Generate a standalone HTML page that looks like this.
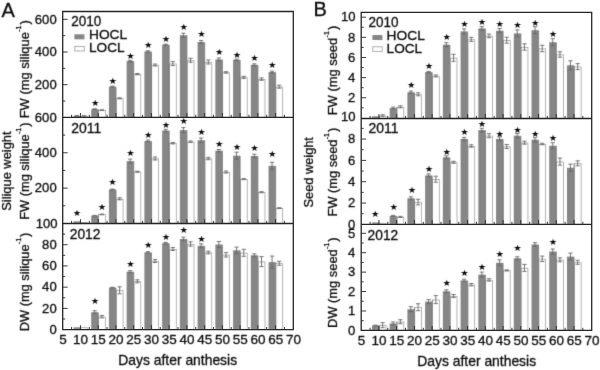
<!DOCTYPE html>
<html lang="en"><head><meta charset="utf-8"><title>Silique and seed weight</title>
<style>
html,body{margin:0;padding:0;background:#fff;}
body{width:600px;height:370px;overflow:hidden;}
svg{display:block;font-family:'Liberation Sans', Arial, sans-serif;fill:#0c0c0c;}
text{stroke:#0c0c0c;stroke-width:0.3px;}
.tk text{font-size:13.5px;}
.tk.y text{font-size:13.1px;}
.ti text{font-size:14.2px;}
.yl{font-size:13px;}
.yr text{font-size:13.8px;}
.lg text{font-size:13px;}
.pl{font-size:20px;}
.st text{font-family:'DejaVu Sans',sans-serif;font-size:8.8px;text-anchor:middle;stroke:none;}
</style></head>
<body>
<svg width="600" height="370" viewBox="0 0 600 370">
<defs><filter id="soft" filterUnits="userSpaceOnUse" x="-10" y="-10" width="620" height="390" color-interpolation-filters="sRGB"><feConvolveMatrix order="3" kernelMatrix="0 1 0 1 5 1 0 1 0" divisor="9" edgeMode="duplicate" preserveAlpha="true"/></filter></defs>
<rect width="600" height="370" fill="#fff"/>
<g filter="url(#soft)">
<rect x="-10" y="-10" width="620" height="390" fill="#fff"/>
<g fill="#868686"><rect x="73.44" y="115.9" width="7" height="1.5"/><rect x="91.18" y="109.2" width="7" height="8.2"/><rect x="108.92" y="86.7" width="7" height="30.7"/><rect x="126.65" y="61" width="7" height="56.4"/><rect x="144.39" y="51.5" width="7" height="65.9"/><rect x="162.13" y="44.7" width="7" height="72.7"/><rect x="179.87" y="35.2" width="7" height="82.2"/><rect x="197.61" y="42" width="7" height="75.4"/><rect x="215.35" y="59.5" width="7" height="57.9"/><rect x="233.08" y="59.8" width="7" height="57.6"/><rect x="250.82" y="64.8" width="7" height="52.6"/><rect x="268.56" y="72.1" width="7" height="45.3"/></g>
<g fill="#fff" stroke="#9a9a9a" stroke-width="0.75"><rect x="80.79" y="116.25" width="6.8" height="1.15"/><rect x="98.53" y="110.45" width="6.8" height="6.95"/><rect x="116.27" y="98.65" width="6.8" height="18.75"/><rect x="134" y="74.45" width="6.8" height="42.95"/><rect x="151.74" y="65.35" width="6.8" height="52.05"/><rect x="169.48" y="63.95" width="6.8" height="53.45"/><rect x="187.22" y="60.65" width="6.8" height="56.75"/><rect x="204.96" y="62.35" width="6.8" height="55.05"/><rect x="222.7" y="72.75" width="6.8" height="44.65"/><rect x="240.43" y="77.75" width="6.8" height="39.65"/><rect x="258.17" y="79.45" width="6.8" height="37.95"/><rect x="275.91" y="87.05" width="6.8" height="30.35"/></g>
<path d="M80.54 116.2V117.4M98.28 109.5V117.4M116.02 87V117.4M133.75 61.3V117.4M151.49 51.8V117.4M169.23 45V117.4M186.97 35.5V117.4M204.71 42.3V117.4M222.45 59.8V117.4M240.18 60.1V117.4M257.92 65.1V117.4M275.66 72.4V117.4" stroke="#6c6c6c" stroke-width="0.7" fill="none"/>
<path d="M76.94 115.6V116.2M74.84 115.6h4.2M74.84 116.2h4.2M84.14 115.6V116.2M82.04 115.6h4.2M82.04 116.2h4.2M94.68 108.8V109.6M92.58 108.8h4.2M92.58 109.6h4.2M101.88 109.8V110.4M99.78 109.8h4.2M99.78 110.4h4.2M112.42 86.2V87.2M110.32 86.2h4.2M110.32 87.2h4.2M119.62 97.8V98.8M117.52 97.8h4.2M117.52 98.8h4.2M130.15 60.3V61.7M128.05 60.3h4.2M128.05 61.7h4.2M137.35 73.5V74.7M135.25 73.5h4.2M135.25 74.7h4.2M147.89 50.8V52.2M145.79 50.8h4.2M145.79 52.2h4.2M155.09 64V66M152.99 64h4.2M152.99 66h4.2M165.63 44.2V45.2M163.53 44.2h4.2M163.53 45.2h4.2M172.83 61.6V65.6M170.73 61.6h4.2M170.73 65.6h4.2M183.37 33.2V37.2M181.27 33.2h4.2M181.27 37.2h4.2M190.57 58.3V62.3M188.47 58.3h4.2M188.47 62.3h4.2M201.11 40.5V43.5M199.01 40.5h4.2M199.01 43.5h4.2M208.31 60V64M206.21 60h4.2M206.21 64h4.2M218.85 58V61M216.75 58h4.2M216.75 61h4.2M226.05 71.7V73.1M223.95 71.7h4.2M223.95 73.1h4.2M236.58 59.1V60.5M234.48 59.1h4.2M234.48 60.5h4.2M243.78 76.4V78.4M241.68 76.4h4.2M241.68 78.4h4.2M254.32 63.8V65.8M252.22 63.8h4.2M252.22 65.8h4.2M261.52 77.9V80.3M259.42 77.9h4.2M259.42 80.3h4.2M272.06 71.1V73.1M269.96 71.1h4.2M269.96 73.1h4.2M279.26 85.2V88.2M277.16 85.2h4.2M277.16 88.2h4.2" stroke="#686868" stroke-width="0.9" fill="none"/>
<g class="st"><text transform="translate(95.3 105.7) scale(1.08 1)">★</text><text transform="translate(112.72 83.7) scale(1.08 1)">★</text><text transform="translate(130.45 58.5) scale(1.08 1)">★</text><text transform="translate(148.19 47.7) scale(1.08 1)">★</text><text transform="translate(165.93 42.1) scale(1.08 1)">★</text><text transform="translate(183.67 29.6) scale(1.08 1)">★</text><text transform="translate(201.41 37.1) scale(1.08 1)">★</text><text transform="translate(219.15 55) scale(1.08 1)">★</text><text transform="translate(236.88 57.5) scale(1.08 1)">★</text><text transform="translate(254.62 61) scale(1.08 1)">★</text><text transform="translate(272.36 68) scale(1.08 1)">★</text></g>
<g fill="#868686"><rect x="73.44" y="221.3" width="7" height="2.2"/><rect x="91.18" y="215.7" width="7" height="7.8"/><rect x="108.92" y="189.5" width="7" height="34"/><rect x="126.65" y="161.1" width="7" height="62.4"/><rect x="144.39" y="141" width="7" height="82.5"/><rect x="162.13" y="130.6" width="7" height="92.9"/><rect x="179.87" y="130.1" width="7" height="93.4"/><rect x="197.61" y="140.2" width="7" height="83.3"/><rect x="215.35" y="150.7" width="7" height="72.8"/><rect x="233.08" y="155.7" width="7" height="67.8"/><rect x="250.82" y="156" width="7" height="67.5"/><rect x="268.56" y="165.8" width="7" height="57.7"/></g>
<g fill="#fff" stroke="#9a9a9a" stroke-width="0.75"><rect x="80.79" y="222.45" width="6.8" height="1.05"/><rect x="98.53" y="214.75" width="6.8" height="8.75"/><rect x="116.27" y="199.15" width="6.8" height="24.35"/><rect x="134" y="172.05" width="6.8" height="51.45"/><rect x="151.74" y="158.85" width="6.8" height="64.65"/><rect x="169.48" y="143.55" width="6.8" height="79.95"/><rect x="187.22" y="142.05" width="6.8" height="81.45"/><rect x="204.96" y="158.85" width="6.8" height="64.65"/><rect x="222.7" y="172.35" width="6.8" height="51.15"/><rect x="240.43" y="179.45" width="6.8" height="44.05"/><rect x="258.17" y="192.55" width="6.8" height="30.95"/><rect x="275.91" y="208.45" width="6.8" height="15.05"/></g>
<path d="M80.54 221.6V223.5M98.28 214.7V223.5M116.02 189.8V223.5M133.75 161.4V223.5M151.49 141.3V223.5M169.23 130.9V223.5M186.97 130.4V223.5M204.71 140.5V223.5M222.45 151V223.5M240.18 156V223.5M257.92 156.3V223.5M275.66 166.1V223.5" stroke="#6c6c6c" stroke-width="0.7" fill="none"/>
<path d="M94.68 215.4V216M92.58 215.4h4.2M92.58 216h4.2M101.88 214.1V214.7M99.78 214.1h4.2M99.78 214.7h4.2M112.42 189V190M110.32 189h4.2M110.32 190h4.2M119.62 197.8V199.8M117.52 197.8h4.2M117.52 199.8h4.2M130.15 159.1V163.1M128.05 159.1h4.2M128.05 163.1h4.2M137.35 171.2V172.2M135.25 171.2h4.2M135.25 172.2h4.2M147.89 140V142M145.79 140h4.2M145.79 142h4.2M155.09 157V160M152.99 157h4.2M152.99 160h4.2M165.63 129.4V131.8M163.53 129.4h4.2M163.53 131.8h4.2M172.83 142.5V143.9M170.73 142.5h4.2M170.73 143.9h4.2M183.37 127.6V132.6M181.27 127.6h4.2M181.27 132.6h4.2M190.57 141V142.4M188.47 141h4.2M188.47 142.4h4.2M201.11 138V142.4M199.01 138h4.2M199.01 142.4h4.2M208.31 157.3V159.7M206.21 157.3h4.2M206.21 159.7h4.2M218.85 149.5V151.9M216.75 149.5h4.2M216.75 151.9h4.2M226.05 171V173M223.95 171h4.2M223.95 173h4.2M236.58 152.2V159.2M234.48 152.2h4.2M234.48 159.2h4.2M243.78 178.6V179.6M241.68 178.6h4.2M241.68 179.6h4.2M254.32 154.2V157.8M252.22 154.2h4.2M252.22 157.8h4.2M261.52 191.7V192.7M259.42 191.7h4.2M259.42 192.7h4.2M272.06 162.3V169.3M269.96 162.3h4.2M269.96 169.3h4.2M279.26 207.7V208.5M277.16 207.7h4.2M277.16 208.5h4.2" stroke="#686868" stroke-width="0.9" fill="none"/>
<g class="st"><text transform="translate(76.9 216.1) scale(1.08 1)">★</text><text transform="translate(102.1 209.8) scale(1.08 1)">★</text><text transform="translate(112.6 184.7) scale(1.08 1)">★</text><text transform="translate(130.45 156) scale(1.08 1)">★</text><text transform="translate(148.19 137.9) scale(1.08 1)">★</text><text transform="translate(165.93 127.7) scale(1.08 1)">★</text><text transform="translate(183.67 124) scale(1.08 1)">★</text><text transform="translate(201.41 134.8) scale(1.08 1)">★</text><text transform="translate(219.15 147.4) scale(1.08 1)">★</text><text transform="translate(236.88 149.7) scale(1.08 1)">★</text><text transform="translate(254.62 150.7) scale(1.08 1)">★</text><text transform="translate(272.36 157.4) scale(1.08 1)">★</text></g>
<g fill="#868686"><rect x="73.44" y="327.3" width="7" height="2.3"/><rect x="91.18" y="312.2" width="7" height="17.4"/><rect x="108.92" y="287.6" width="7" height="42"/><rect x="126.65" y="271.7" width="7" height="57.9"/><rect x="144.39" y="252.4" width="7" height="77.2"/><rect x="162.13" y="243.2" width="7" height="86.4"/><rect x="179.87" y="239" width="7" height="90.6"/><rect x="197.61" y="245.8" width="7" height="83.8"/><rect x="215.35" y="244.5" width="7" height="85.1"/><rect x="233.08" y="250.3" width="7" height="79.3"/><rect x="250.82" y="255.3" width="7" height="74.3"/><rect x="268.56" y="262.1" width="7" height="67.5"/></g>
<g fill="#fff" stroke="#9a9a9a" stroke-width="0.75"><rect x="80.79" y="327.65" width="6.8" height="1.95"/><rect x="98.53" y="317.05" width="6.8" height="12.55"/><rect x="116.27" y="290.65" width="6.8" height="38.95"/><rect x="134" y="281.65" width="6.8" height="47.95"/><rect x="151.74" y="261.35" width="6.8" height="68.25"/><rect x="169.48" y="249.35" width="6.8" height="80.25"/><rect x="187.22" y="244.35" width="6.8" height="85.25"/><rect x="204.96" y="252.85" width="6.8" height="76.75"/><rect x="222.7" y="255.15" width="6.8" height="74.45"/><rect x="240.43" y="253.15" width="6.8" height="76.45"/><rect x="258.17" y="261.95" width="6.8" height="67.65"/><rect x="275.91" y="263.65" width="6.8" height="65.95"/></g>
<path d="M80.54 327.6V329.6M98.28 312.5V329.6M116.02 287.9V329.6M133.75 272V329.6M151.49 252.7V329.6M169.23 243.5V329.6M186.97 239.3V329.6M204.71 246.1V329.6M222.45 244.8V329.6M240.18 250.6V329.6M257.92 255.6V329.6M275.66 262.4V329.6" stroke="#6c6c6c" stroke-width="0.7" fill="none"/>
<path d="M94.68 310.7V313.7M92.58 310.7h4.2M92.58 313.7h4.2M101.88 315.5V317.9M99.78 315.5h4.2M99.78 317.9h4.2M112.42 287.3V287.9M110.32 287.3h4.2M110.32 287.9h4.2M119.62 286.8V293.8M117.52 286.8h4.2M117.52 293.8h4.2M130.15 270.7V272.7M128.05 270.7h4.2M128.05 272.7h4.2M137.35 279.8V282.8M135.25 279.8h4.2M135.25 282.8h4.2M147.89 251.7V253.1M145.79 251.7h4.2M145.79 253.1h4.2M155.09 259.5V262.5M152.99 259.5h4.2M152.99 262.5h4.2M165.63 242.4V244M163.53 242.4h4.2M163.53 244h4.2M172.83 247.5V250.5M170.73 247.5h4.2M170.73 250.5h4.2M183.37 237.2V240.8M181.27 237.2h4.2M181.27 240.8h4.2M190.57 241.8V246.2M188.47 241.8h4.2M188.47 246.2h4.2M201.11 243.8V247.8M199.01 243.8h4.2M199.01 247.8h4.2M208.31 251.2V253.8M206.21 251.2h4.2M206.21 253.8h4.2M218.85 241.5V247.5M216.75 241.5h4.2M216.75 247.5h4.2M226.05 252.6V257M223.95 252.6h4.2M223.95 257h4.2M236.58 247.1V253.5M234.48 247.1h4.2M234.48 253.5h4.2M243.78 249.3V256.3M241.68 249.3h4.2M241.68 256.3h4.2M254.32 253.8V256.8M252.22 253.8h4.2M252.22 256.8h4.2M261.52 256.6V266.6M259.42 256.6h4.2M259.42 266.6h4.2M272.06 256.1V268.1M269.96 256.1h4.2M269.96 268.1h4.2M279.26 261.3V265.3M277.16 261.3h4.2M277.16 265.3h4.2" stroke="#686868" stroke-width="0.9" fill="none"/>
<g class="st"><text transform="translate(94.98 304.1) scale(1.08 1)">★</text><text transform="translate(130.45 267.4) scale(1.08 1)">★</text><text transform="translate(148.19 247.9) scale(1.08 1)">★</text><text transform="translate(165.93 239.9) scale(1.08 1)">★</text><text transform="translate(183.67 233.4) scale(1.08 1)">★</text><text transform="translate(201.41 242.2) scale(1.08 1)">★</text></g>
<g fill="#868686"><rect x="371.93" y="116.3" width="7" height="2.2"/><rect x="389.66" y="108.1" width="7" height="10.4"/><rect x="407.39" y="92.3" width="7" height="26.2"/><rect x="425.12" y="72.1" width="7" height="46.4"/><rect x="442.85" y="44.7" width="7" height="73.8"/><rect x="460.58" y="31.4" width="7" height="87.1"/><rect x="478.32" y="28.4" width="7" height="90.1"/><rect x="496.05" y="30.7" width="7" height="87.8"/><rect x="513.78" y="33.4" width="7" height="85.1"/><rect x="531.51" y="30.2" width="7" height="88.3"/><rect x="549.24" y="42.2" width="7" height="76.3"/><rect x="566.97" y="65.3" width="7" height="53.2"/></g>
<g fill="#fff" stroke="#9a9a9a" stroke-width="0.75"><rect x="379.28" y="115.95" width="6.8" height="2.55"/><rect x="397.01" y="107.15" width="6.8" height="11.35"/><rect x="414.74" y="94.65" width="6.8" height="23.85"/><rect x="432.47" y="76.25" width="6.8" height="42.25"/><rect x="450.2" y="58.15" width="6.8" height="60.35"/><rect x="467.93" y="39.75" width="6.8" height="78.75"/><rect x="485.67" y="36.25" width="6.8" height="82.25"/><rect x="503.4" y="40.55" width="6.8" height="77.95"/><rect x="521.13" y="47.35" width="6.8" height="71.15"/><rect x="538.86" y="48.85" width="6.8" height="69.65"/><rect x="556.59" y="54.85" width="6.8" height="63.65"/><rect x="574.32" y="66.95" width="6.8" height="51.55"/></g>
<path d="M379.03 115.9V118.5M396.76 107.1V118.5M414.49 92.6V118.5M432.22 72.4V118.5M449.95 45V118.5M467.68 31.7V118.5M485.42 28.7V118.5M503.15 31V118.5M520.88 33.7V118.5M538.61 30.5V118.5M556.34 42.5V118.5M574.07 65.6V118.5" stroke="#6c6c6c" stroke-width="0.7" fill="none"/>
<path d="M382.63 114.8V116.4M380.53 114.8h4.2M380.53 116.4h4.2M393.16 107.1V109.1M391.06 107.1h4.2M391.06 109.1h4.2M400.36 105.8V107.8M398.26 105.8h4.2M398.26 107.8h4.2M410.89 91.1V93.5M408.79 91.1h4.2M408.79 93.5h4.2M418.09 92.8V95.8M415.99 92.8h4.2M415.99 95.8h4.2M428.62 71.4V72.8M426.52 71.4h4.2M426.52 72.8h4.2M435.82 74.9V76.9M433.72 74.9h4.2M433.72 76.9h4.2M446.35 42.7V46.7M444.25 42.7h4.2M444.25 46.7h4.2M453.55 54.3V61.3M451.45 54.3h4.2M451.45 61.3h4.2M464.08 28.9V33.9M461.98 28.9h4.2M461.98 33.9h4.2M471.28 37.4V41.4M469.18 37.4h4.2M469.18 41.4h4.2M481.82 26.6V30.2M479.72 26.6h4.2M479.72 30.2h4.2M489.02 34.1V37.7M486.92 34.1h4.2M486.92 37.7h4.2M499.55 28.5V32.9M497.45 28.5h4.2M497.45 32.9h4.2M506.75 37.2V43.2M504.65 37.2h4.2M504.65 43.2h4.2M517.28 29.9V36.9M515.18 29.9h4.2M515.18 36.9h4.2M524.48 43.8V50.2M522.38 43.8h4.2M522.38 50.2h4.2M535.01 26.7V33.7M532.91 26.7h4.2M532.91 33.7h4.2M542.21 45.3V51.7M540.11 45.3h4.2M540.11 51.7h4.2M552.74 38.7V45.7M550.64 38.7h4.2M550.64 45.7h4.2M559.94 51.8V57.2M557.84 51.8h4.2M557.84 57.2h4.2M570.47 60.8V69.8M568.37 60.8h4.2M568.37 69.8h4.2M577.67 63.6V69.6M575.57 63.6h4.2M575.57 69.6h4.2" stroke="#686868" stroke-width="0.9" fill="none"/>
<g class="st"><text transform="translate(411.19 87.7) scale(1.08 1)">★</text><text transform="translate(428.92 68.5) scale(1.08 1)">★</text><text transform="translate(446.65 40.4) scale(1.08 1)">★</text><text transform="translate(464.38 27.3) scale(1.08 1)">★</text><text transform="translate(482.12 25.3) scale(1.08 1)">★</text><text transform="translate(499.85 27.1) scale(1.08 1)">★</text><text transform="translate(517.58 28.3) scale(1.08 1)">★</text><text transform="translate(535.31 26.1) scale(1.08 1)">★</text><text transform="translate(553.04 36.6) scale(1.08 1)">★</text></g>
<g fill="#868686"><rect x="371.93" y="222.4" width="7" height="2"/><rect x="389.66" y="215.9" width="7" height="8.5"/><rect x="407.39" y="198.3" width="7" height="26.1"/><rect x="425.12" y="175.4" width="7" height="49"/><rect x="442.85" y="157.3" width="7" height="67.1"/><rect x="460.58" y="138.9" width="7" height="85.5"/><rect x="478.32" y="130.1" width="7" height="94.3"/><rect x="496.05" y="138.9" width="7" height="85.5"/><rect x="513.78" y="135.7" width="7" height="88.7"/><rect x="531.51" y="139.7" width="7" height="84.7"/><rect x="549.24" y="145.7" width="7" height="78.7"/><rect x="566.97" y="167.8" width="7" height="56.6"/></g>
<g fill="#fff" stroke="#9a9a9a" stroke-width="0.75"><rect x="379.28" y="223.25" width="6.8" height="1.15"/><rect x="397.01" y="217.25" width="6.8" height="7.15"/><rect x="414.74" y="202.45" width="6.8" height="21.95"/><rect x="432.47" y="179.55" width="6.8" height="44.85"/><rect x="450.2" y="162.65" width="6.8" height="61.75"/><rect x="467.93" y="146.35" width="6.8" height="78.05"/><rect x="485.67" y="136.05" width="6.8" height="88.35"/><rect x="503.4" y="146.85" width="6.8" height="77.55"/><rect x="521.13" y="143.05" width="6.8" height="81.35"/><rect x="538.86" y="144.35" width="6.8" height="80.05"/><rect x="556.59" y="161.95" width="6.8" height="62.45"/><rect x="574.32" y="163.65" width="6.8" height="60.75"/></g>
<path d="M379.03 222.7V224.4M396.76 216.2V224.4M414.49 198.6V224.4M432.22 175.7V224.4M449.95 157.6V224.4M467.68 139.2V224.4M485.42 130.4V224.4M503.15 139.2V224.4M520.88 136V224.4M538.61 140V224.4M556.34 146V224.4M574.07 163.6V224.4" stroke="#6c6c6c" stroke-width="0.7" fill="none"/>
<path d="M393.16 215.4V216.4M391.06 215.4h4.2M391.06 216.4h4.2M400.36 216.4V217.4M398.26 216.4h4.2M398.26 217.4h4.2M410.89 196.8V199.8M408.79 196.8h4.2M408.79 199.8h4.2M418.09 199.3V204.9M415.99 199.3h4.2M415.99 204.9h4.2M428.62 173.9V176.9M426.52 173.9h4.2M426.52 176.9h4.2M435.82 176.2V182.2M433.72 176.2h4.2M433.72 182.2h4.2M446.35 155.8V158.8M444.25 155.8h4.2M444.25 158.8h4.2M453.55 161.3V163.3M451.45 161.3h4.2M451.45 163.3h4.2M464.08 137.4V140.4M461.98 137.4h4.2M461.98 140.4h4.2M471.28 144.8V147.2M469.18 144.8h4.2M469.18 147.2h4.2M481.82 128.3V131.9M479.72 128.3h4.2M479.72 131.9h4.2M489.02 133.7V137.7M486.92 133.7h4.2M486.92 137.7h4.2M499.55 136.9V140.9M497.45 136.9h4.2M497.45 140.9h4.2M506.75 144.5V148.5M504.65 144.5h4.2M504.65 148.5h4.2M517.28 133.5V137.9M515.18 133.5h4.2M515.18 137.9h4.2M524.48 141.2V144.2M522.38 141.2h4.2M522.38 144.2h4.2M535.01 137.7V141.7M532.91 137.7h4.2M532.91 141.7h4.2M542.21 143.3V144.7M540.11 143.3h4.2M540.11 144.7h4.2M552.74 142.7V148.7M550.64 142.7h4.2M550.64 148.7h4.2M559.94 158.1V165.1M557.84 158.1h4.2M557.84 165.1h4.2M570.47 164.1V171.5M568.37 164.1h4.2M568.37 171.5h4.2M577.67 160.8V165.8M575.57 160.8h4.2M575.57 165.8h4.2" stroke="#686868" stroke-width="0.9" fill="none"/>
<g class="st"><text transform="translate(375.2 217.4) scale(1.08 1)">★</text><text transform="translate(393.8 209.8) scale(1.08 1)">★</text><text transform="translate(412.1 192.7) scale(1.08 1)">★</text><text transform="translate(428.92 171.6) scale(1.08 1)">★</text><text transform="translate(446.65 155) scale(1.08 1)">★</text><text transform="translate(464.38 134.7) scale(1.08 1)">★</text><text transform="translate(482.12 127.3) scale(1.08 1)">★</text><text transform="translate(499.85 136.6) scale(1.08 1)">★</text><text transform="translate(517.58 132.5) scale(1.08 1)">★</text><text transform="translate(535.31 136.7) scale(1.08 1)">★</text><text transform="translate(553.04 140.9) scale(1.08 1)">★</text></g>
<g fill="#868686"><rect x="371.93" y="325.5" width="7" height="4.9"/><rect x="389.66" y="323.5" width="7" height="6.9"/><rect x="407.39" y="309.2" width="7" height="21.2"/><rect x="425.12" y="301.6" width="7" height="28.8"/><rect x="442.85" y="291.3" width="7" height="39.1"/><rect x="460.58" y="280.4" width="7" height="50"/><rect x="478.32" y="274.6" width="7" height="55.8"/><rect x="496.05" y="262.8" width="7" height="67.6"/><rect x="513.78" y="258.3" width="7" height="72.1"/><rect x="531.51" y="244.5" width="7" height="85.9"/><rect x="549.24" y="251.5" width="7" height="78.9"/><rect x="566.97" y="256.6" width="7" height="73.8"/></g>
<g fill="#fff" stroke="#9a9a9a" stroke-width="0.75"><rect x="379.28" y="325.55" width="6.8" height="4.85"/><rect x="397.01" y="322.05" width="6.8" height="8.35"/><rect x="414.74" y="307.55" width="6.8" height="22.85"/><rect x="432.47" y="299.95" width="6.8" height="30.45"/><rect x="450.2" y="296.35" width="6.8" height="34.05"/><rect x="467.93" y="285.05" width="6.8" height="45.35"/><rect x="485.67" y="280.25" width="6.8" height="50.15"/><rect x="503.4" y="270.75" width="6.8" height="59.65"/><rect x="521.13" y="268.25" width="6.8" height="62.15"/><rect x="538.86" y="259.15" width="6.8" height="71.25"/><rect x="556.59" y="260.15" width="6.8" height="70.25"/><rect x="574.32" y="262.65" width="6.8" height="67.75"/></g>
<path d="M379.03 325.5V330.4M396.76 322V330.4M414.49 307.5V330.4M432.22 299.9V330.4M449.95 291.6V330.4M467.68 280.7V330.4M485.42 274.9V330.4M503.15 263.1V330.4M520.88 258.6V330.4M538.61 244.8V330.4M556.34 251.8V330.4M574.07 256.9V330.4" stroke="#6c6c6c" stroke-width="0.7" fill="none"/>
<path d="M375.43 325.2V325.8M373.33 325.2h4.2M373.33 325.8h4.2M382.63 322.7V327.7M380.53 322.7h4.2M380.53 327.7h4.2M393.16 322V325M391.06 322h4.2M391.06 325h4.2M400.36 319.7V323.7M398.26 319.7h4.2M398.26 323.7h4.2M410.89 306.7V311.7M408.79 306.7h4.2M408.79 311.7h4.2M418.09 303.7V310.7M415.99 303.7h4.2M415.99 310.7h4.2M428.62 299.6V303.6M426.52 299.6h4.2M426.52 303.6h4.2M435.82 295.6V303.6M433.72 295.6h4.2M433.72 303.6h4.2M446.35 289.8V292.8M444.25 289.8h4.2M444.25 292.8h4.2M453.55 294.5V297.5M451.45 294.5h4.2M451.45 297.5h4.2M464.08 279.2V281.6M461.98 279.2h4.2M461.98 281.6h4.2M471.28 283.5V285.9M469.18 283.5h4.2M469.18 285.9h4.2M481.82 272.1V277.1M479.72 272.1h4.2M479.72 277.1h4.2M489.02 278.7V281.1M486.92 278.7h4.2M486.92 281.1h4.2M499.55 259.8V265.8M497.45 259.8h4.2M497.45 265.8h4.2M506.75 269.9V270.9M504.65 269.9h4.2M504.65 270.9h4.2M517.28 256.8V259.8M515.18 256.8h4.2M515.18 259.8h4.2M524.48 264.4V271.4M522.38 264.4h4.2M522.38 271.4h4.2M535.01 242.7V246.3M532.91 242.7h4.2M532.91 246.3h4.2M542.21 256.1V261.5M540.11 256.1h4.2M540.11 261.5h4.2M552.74 249V254M550.64 249h4.2M550.64 254h4.2M559.94 257.8V261.8M557.84 257.8h4.2M557.84 261.8h4.2M570.47 253.1V260.1M568.37 253.1h4.2M568.37 260.1h4.2M577.67 260.3V264.3M575.57 260.3h4.2M575.57 264.3h4.2" stroke="#686868" stroke-width="0.9" fill="none"/>
<g class="st"><text transform="translate(446.65 285.7) scale(1.08 1)">★</text><text transform="translate(464.38 275.5) scale(1.08 1)">★</text><text transform="translate(482.12 269.6) scale(1.08 1)">★</text><text transform="translate(499.85 257) scale(1.08 1)">★</text><text transform="translate(517.58 251.1) scale(1.08 1)">★</text><text transform="translate(553.04 244.7) scale(1.08 1)">★</text></g>
<g class="tk y" text-anchor="end">
<text x="56.7" y="89">200</text>
<text x="56.7" y="56.3">400</text>
<text x="56.7" y="23.6">600</text>
<text x="56.7" y="192.43">200</text>
<text x="56.7" y="157.07">400</text>
<text x="56.7" y="312.68">20</text>
<text x="56.7" y="291.46">40</text>
<text x="56.7" y="270.24">60</text>
<text x="56.7" y="249.02">80</text>
<text x="56.7" y="121.7">600</text>
<text x="57.6" y="227.8">100</text>
<text x="56.7" y="333.9">0</text>
<text x="355.2" y="102.06">2</text>
<text x="355.2" y="81.92">4</text>
<text x="355.2" y="61.78">6</text>
<text x="355.2" y="41.64">8</text>
<text x="355.6" y="20.5">10</text>
<text x="355.2" y="207.36">2</text>
<text x="355.2" y="186.02">4</text>
<text x="355.2" y="164.68">6</text>
<text x="355.2" y="143.34">8</text>
<text x="355.2" y="315.28">1</text>
<text x="355.2" y="295.86">2</text>
<text x="355.2" y="276.44">3</text>
<text x="355.2" y="257.02">4</text>
<text x="355.2" y="237.6">5</text>
<text x="355.6" y="121.3">10</text>
<text x="355.2" y="228.7">0</text>
<text x="355.2" y="334.7">0</text>
</g>
<g class="tk" text-anchor="middle">
<text x="62.9" y="343.9">5</text>
<text x="361.4" y="345.2">5</text>
<text x="80.64" y="343.9">10</text>
<text x="379.13" y="345.2">10</text>
<text x="98.38" y="343.9">15</text>
<text x="396.86" y="345.2">15</text>
<text x="116.12" y="343.9">20</text>
<text x="414.59" y="345.2">20</text>
<text x="133.85" y="343.9">25</text>
<text x="432.32" y="345.2">25</text>
<text x="151.59" y="343.9">30</text>
<text x="450.05" y="345.2">30</text>
<text x="169.33" y="343.9">35</text>
<text x="467.78" y="345.2">35</text>
<text x="187.07" y="343.9">40</text>
<text x="485.52" y="345.2">40</text>
<text x="204.81" y="343.9">45</text>
<text x="503.25" y="345.2">45</text>
<text x="222.55" y="343.9">50</text>
<text x="520.98" y="345.2">50</text>
<text x="240.28" y="343.9">55</text>
<text x="538.71" y="345.2">55</text>
<text x="258.02" y="343.9">60</text>
<text x="556.44" y="345.2">60</text>
<text x="275.76" y="343.9">65</text>
<text x="574.17" y="345.2">65</text>
<text x="293.5" y="343.9">70</text>
<text x="591.9" y="345.2">70</text>
</g>
<g class="ti">
<text x="118.3" y="364.9" textLength="118.8" lengthAdjust="spacingAndGlyphs">Days after anthesis</text>
<text x="417.3" y="366.1" textLength="118.8" lengthAdjust="spacingAndGlyphs">Days after anthesis</text>
</g>
<text class="yl" transform="translate(28.8 118.3) rotate(-90) scale(0.995 1)">FW (mg silique<tspan dy="-7.8" dx="0.3" font-size="7.2">-1</tspan><tspan dy="7.8" dx="1">)</tspan></text>
<text class="yl" transform="translate(28.8 219.8) rotate(-90) scale(0.987 1)">FW (mg silique<tspan dy="-7.8" dx="0.3" font-size="7.2">-1</tspan><tspan dy="7.8" dx="1">)</tspan></text>
<text class="yl" transform="translate(28.8 331.2) rotate(-90) scale(0.985 1)">DW (mg silique<tspan dy="-7.8" dx="0.3" font-size="7.2">-1</tspan><tspan dy="7.8" dx="1">)</tspan></text>
<text class="yl" transform="translate(11.2 210.8) rotate(-90) scale(0.99 1)">Silique weight</text>
<text class="yl" transform="translate(336.8 115.3) rotate(-90) scale(0.995 1)">FW (mg seed<tspan dy="-7.8" dx="0.3" font-size="7.2">-1</tspan><tspan dy="7.8" dx="1">)</tspan></text>
<text class="yl" transform="translate(336.8 216.4) rotate(-90) scale(0.985 1)">FW (mg seed<tspan dy="-7.8" dx="0.3" font-size="7.2">-1</tspan><tspan dy="7.8" dx="1">)</tspan></text>
<text class="yl" transform="translate(336.8 327.9) rotate(-90) scale(0.99 1)">DW (mg seed<tspan dy="-7.8" dx="0.3" font-size="7.2">-1</tspan><tspan dy="7.8" dx="1">)</tspan></text>
<text class="yl" transform="translate(313.4 207.5) rotate(-90) scale(0.985 1)">Seed weight</text>
<g class="yr">
<text x="71.2" y="25.8" textLength="30" lengthAdjust="spacingAndGlyphs">2010</text>
<text x="71.2" y="132.6" textLength="30" lengthAdjust="spacingAndGlyphs">2011</text>
<text x="69.7" y="238.6" textLength="30.8" lengthAdjust="spacingAndGlyphs">2012</text>
<text x="368.6" y="26.5" textLength="30" lengthAdjust="spacingAndGlyphs">2010</text>
<text x="368.6" y="133.3" textLength="30" lengthAdjust="spacingAndGlyphs">2011</text>
<text x="367.6" y="239.6" textLength="30.6" lengthAdjust="spacingAndGlyphs">2012</text>
</g>
<g class="lg">
<rect x="74.4" y="34.3" width="10" height="5" fill="#868686"/>
<rect x="74.8" y="46.4" width="9.4" height="4.6" fill="#fff" stroke="#9a9a9a" stroke-width="0.8"/>
<text x="89" y="38.9" textLength="38.2" lengthAdjust="spacingAndGlyphs">HOCL</text>
<text x="89" y="52.1" textLength="35.6" lengthAdjust="spacingAndGlyphs">LOCL</text>
<rect x="372.4" y="35" width="10" height="5" fill="#868686"/>
<rect x="372.8" y="46.8" width="9.4" height="4.6" fill="#fff" stroke="#9a9a9a" stroke-width="0.8"/>
<text x="386.6" y="40.1" textLength="38.2" lengthAdjust="spacingAndGlyphs">HOCL</text>
<text x="386.6" y="53" textLength="35.6" lengthAdjust="spacingAndGlyphs">LOCL</text>
</g>
<text class="pl" x="1.6" y="16.6">A</text>
<text class="pl" x="313.6" y="16.4">B</text>
</g>
<path d="M71.57 117.4v-2.6M80.44 117.4v-4.4M89.31 117.4v-2.6M98.18 117.4v-4.4M107.05 117.4v-2.6M115.92 117.4v-4.4M124.78 117.4v-2.6M133.65 117.4v-4.4M142.52 117.4v-2.6M151.39 117.4v-4.4M160.26 117.4v-2.6M169.13 117.4v-4.4M178 117.4v-2.6M186.87 117.4v-4.4M195.74 117.4v-2.6M204.61 117.4v-4.4M213.48 117.4v-2.6M222.35 117.4v-4.4M231.22 117.4v-2.6M240.08 117.4v-4.4M248.95 117.4v-2.6M257.82 117.4v-4.4M266.69 117.4v-2.6M275.56 117.4v-4.4M284.43 117.4v-2.6M71.57 223.5v-2.6M80.44 223.5v-4.4M89.31 223.5v-2.6M98.18 223.5v-4.4M107.05 223.5v-2.6M115.92 223.5v-4.4M124.78 223.5v-2.6M133.65 223.5v-4.4M142.52 223.5v-2.6M151.39 223.5v-4.4M160.26 223.5v-2.6M169.13 223.5v-4.4M178 223.5v-2.6M186.87 223.5v-4.4M195.74 223.5v-2.6M204.61 223.5v-4.4M213.48 223.5v-2.6M222.35 223.5v-4.4M231.22 223.5v-2.6M240.08 223.5v-4.4M248.95 223.5v-2.6M257.82 223.5v-4.4M266.69 223.5v-2.6M275.56 223.5v-4.4M284.43 223.5v-2.6M71.57 329.6v-2.6M80.44 329.6v-4.4M89.31 329.6v-2.6M98.18 329.6v-4.4M107.05 329.6v-2.6M115.92 329.6v-4.4M124.78 329.6v-2.6M133.65 329.6v-4.4M142.52 329.6v-2.6M151.39 329.6v-4.4M160.26 329.6v-2.6M169.13 329.6v-4.4M178 329.6v-2.6M186.87 329.6v-4.4M195.74 329.6v-2.6M204.61 329.6v-4.4M213.48 329.6v-2.6M222.35 329.6v-4.4M231.22 329.6v-2.6M240.08 329.6v-4.4M248.95 329.6v-2.6M257.82 329.6v-4.4M266.69 329.6v-2.6M275.56 329.6v-4.4M284.43 329.6v-2.6M62.7 101.05h2.5M62.7 84.7h4.9M62.7 68.35h2.5M62.7 52h4.9M62.7 35.65h2.5M62.7 19.3h4.9M62.7 205.82h2.5M62.7 188.13h4.9M62.7 170.45h2.5M62.7 152.77h4.9M62.7 135.08h2.5M62.7 318.99h2.5M62.7 308.38h4.9M62.7 297.77h2.5M62.7 287.16h4.9M62.7 276.55h2.5M62.7 265.94h4.9M62.7 255.33h2.5M62.7 244.72h4.9M62.7 234.11h2.5" stroke="#262626" stroke-width="0.9" fill="none"/>
<path d="M62.7 11.5H293.3V329.6H62.7ZM62.7 117.4H293.3M62.7 223.5H293.3" stroke="#262626" stroke-width="1.3" fill="none"/>
<path d="M370.07 118.5v-2.6M378.93 118.5v-4.4M387.8 118.5v-2.6M396.66 118.5v-4.4M405.53 118.5v-2.6M414.39 118.5v-4.4M423.26 118.5v-2.6M432.12 118.5v-4.4M440.99 118.5v-2.6M449.85 118.5v-4.4M458.72 118.5v-2.6M467.58 118.5v-4.4M476.45 118.5v-2.6M485.32 118.5v-4.4M494.18 118.5v-2.6M503.05 118.5v-4.4M511.91 118.5v-2.6M520.78 118.5v-4.4M529.64 118.5v-2.6M538.51 118.5v-4.4M547.37 118.5v-2.6M556.24 118.5v-4.4M565.1 118.5v-2.6M573.97 118.5v-4.4M582.83 118.5v-2.6M370.07 224.4v-2.6M378.93 224.4v-4.4M387.8 224.4v-2.6M396.66 224.4v-4.4M405.53 224.4v-2.6M414.39 224.4v-4.4M423.26 224.4v-2.6M432.12 224.4v-4.4M440.99 224.4v-2.6M449.85 224.4v-4.4M458.72 224.4v-2.6M467.58 224.4v-4.4M476.45 224.4v-2.6M485.32 224.4v-4.4M494.18 224.4v-2.6M503.05 224.4v-4.4M511.91 224.4v-2.6M520.78 224.4v-4.4M529.64 224.4v-2.6M538.51 224.4v-4.4M547.37 224.4v-2.6M556.24 224.4v-4.4M565.1 224.4v-2.6M573.97 224.4v-4.4M582.83 224.4v-2.6M370.07 330.4v-2.6M378.93 330.4v-4.4M387.8 330.4v-2.6M396.66 330.4v-4.4M405.53 330.4v-2.6M414.39 330.4v-4.4M423.26 330.4v-2.6M432.12 330.4v-4.4M440.99 330.4v-2.6M449.85 330.4v-4.4M458.72 330.4v-2.6M467.58 330.4v-4.4M476.45 330.4v-2.6M485.32 330.4v-4.4M494.18 330.4v-2.6M503.05 330.4v-4.4M511.91 330.4v-2.6M520.78 330.4v-4.4M529.64 330.4v-2.6M538.51 330.4v-4.4M547.37 330.4v-2.6M556.24 330.4v-4.4M565.1 330.4v-2.6M573.97 330.4v-4.4M582.83 330.4v-2.6M361.2 107.83h2.5M361.2 97.76h4.9M361.2 87.69h2.5M361.2 77.62h4.9M361.2 67.55h2.5M361.2 57.48h4.9M361.2 47.41h2.5M361.2 37.34h4.9M361.2 27.27h2.5M361.2 17.2h4.9M361.2 213.73h2.5M361.2 203.06h4.9M361.2 192.39h2.5M361.2 181.72h4.9M361.2 171.05h2.5M361.2 160.38h4.9M361.2 149.71h2.5M361.2 139.04h4.9M361.2 128.37h2.5M361.2 320.69h2.5M361.2 310.98h4.9M361.2 301.27h2.5M361.2 291.56h4.9M361.2 281.85h2.5M361.2 272.14h4.9M361.2 262.43h2.5M361.2 252.72h4.9M361.2 243.01h2.5M361.2 233.3h4.9" stroke="#262626" stroke-width="0.9" fill="none"/>
<path d="M361.2 12.3H591.7V330.4H361.2ZM361.2 118.5H591.7M361.2 224.4H591.7" stroke="#262626" stroke-width="1.3" fill="none"/>
</svg>
</body></html>
